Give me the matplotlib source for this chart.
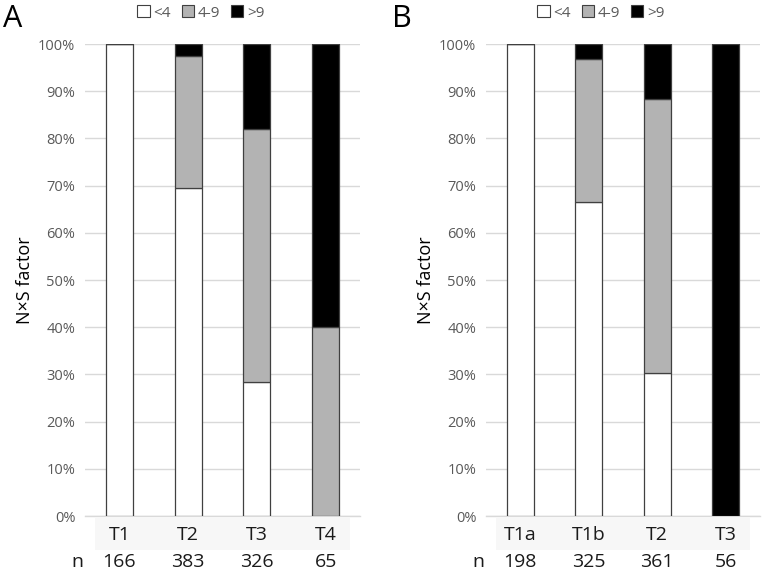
import matplotlib
matplotlib.use("Agg")
import matplotlib.pyplot as plt
from matplotlib.patches import Patch, Rectangle
import matplotlib.transforms as mtransforms

plt.rcParams['font.family'] = ['Open Sans', 'DejaVu Sans']

series_names = ['<4', '4-9', '>9']
series_colors = ['#ffffff', '#b3b3b3', '#000000']

cats_A = ['T1', 'T2', 'T3', 'T4']
n_A = [166, 383, 326, 65]
low_A = [100, 69.4, 28.3, 0]
mid_A = [0, 28.1, 53.7, 40]
high_A = [0, 2.5, 18.0, 60]

cats_B = ['T1a', 'T1b', 'T2', 'T3']
n_B = [198, 325, 361, 56]
low_B = [100, 66.5, 30.2, 0]
mid_B = [0, 30.4, 58.1, 0]
high_B = [0, 3.1, 11.7, 100]

fig = plt.figure(figsize=(7.65, 5.74), dpi=100)
AX_H = 472.0

def panel(rect, cats, ns, low, mid, high, letter, letter_x, leg_x):
    ax = fig.add_axes(rect)
    x = list(range(len(cats)))
    w = 0.39
    ec = '#404040'
    ax.bar(x, low, w, color=series_colors[0], edgecolor=ec, linewidth=0.9, zorder=3)
    ax.bar(x, mid, w, bottom=low, color=series_colors[1], edgecolor=ec, linewidth=0.9, zorder=3)
    bot2 = [a + b for a, b in zip(low, mid)]
    ax.bar(x, high, w, bottom=bot2, color=series_colors[2], edgecolor=ec, linewidth=0.9, zorder=3)
    ax.set_xlim(-0.5, len(cats) - 0.5)
    ax.set_ylim(0, 100)
    ax.set_yticks(range(0, 101, 10))
    ax.set_yticklabels([f'{v}%' for v in range(0, 101, 10)], fontsize=10.5, color='#595959')
    ax.yaxis.grid(True, color='#d9d9d9', linewidth=1.0, zorder=0)
    for s in ['top', 'right', 'left']:
        ax.spines[s].set_visible(False)
    ax.spines['bottom'].set_color('#d9d9d9')
    ax.spines['bottom'].set_linewidth(1.0)
    ax.tick_params(axis='y', length=0, pad=7)
    ax.set_xticks([])
    ax.set_ylabel('N×S factor', fontsize=13, labelpad=3)
    trans = mtransforms.blended_transform_factory(ax.transData, ax.transAxes)
    band = Rectangle((-0.35, -34 / AX_H), len(cats) - 0.3, 32 / AX_H, transform=trans,
                     facecolor='#f7f7f7', edgecolor='none', clip_on=False, zorder=0)
    ax.add_patch(band)
    for xi, c in zip(x, cats):
        ax.text(xi, -19 / AX_H, c, transform=trans, ha='center', va='center',
                fontsize=14, color='#1a1a1a')
    for xi, nv in zip(x, ns):
        ax.text(xi, -46 / AX_H, str(nv), transform=trans, ha='center', va='center',
                fontsize=14, color='#1a1a1a')
    ax.text(-0.52, -46 / AX_H, 'n', transform=trans, ha='right', va='center',
            fontsize=14, color='#1a1a1a')
    fig.text(letter_x, 1 - 19 / 574, letter, fontsize=22, ha='left', va='center')
    handles = [Patch(facecolor=c, edgecolor='#404040', linewidth=0.8) for c in series_colors]
    fig.legend(handles, series_names, loc='center', bbox_to_anchor=(leg_x, 1 - 13 / 574),
               ncol=3, frameon=False, fontsize=11, labelcolor='#595959',
               handlelength=0.8, handleheight=0.8, handletextpad=0.25, columnspacing=0.7,
               borderpad=0.1)
    return ax

panel([85/765, 1 - 516/574, 275/765, AX_H/574], cats_A, n_A, low_A, mid_A, high_A,
      'A', 3/765, 201/765)
panel([486/765, 1 - 516/574, 274/765, AX_H/574], cats_B, n_B, low_B, mid_B, high_B,
      'B', 392/765, 601/765)

fig.savefig('out.png', dpi=100)
